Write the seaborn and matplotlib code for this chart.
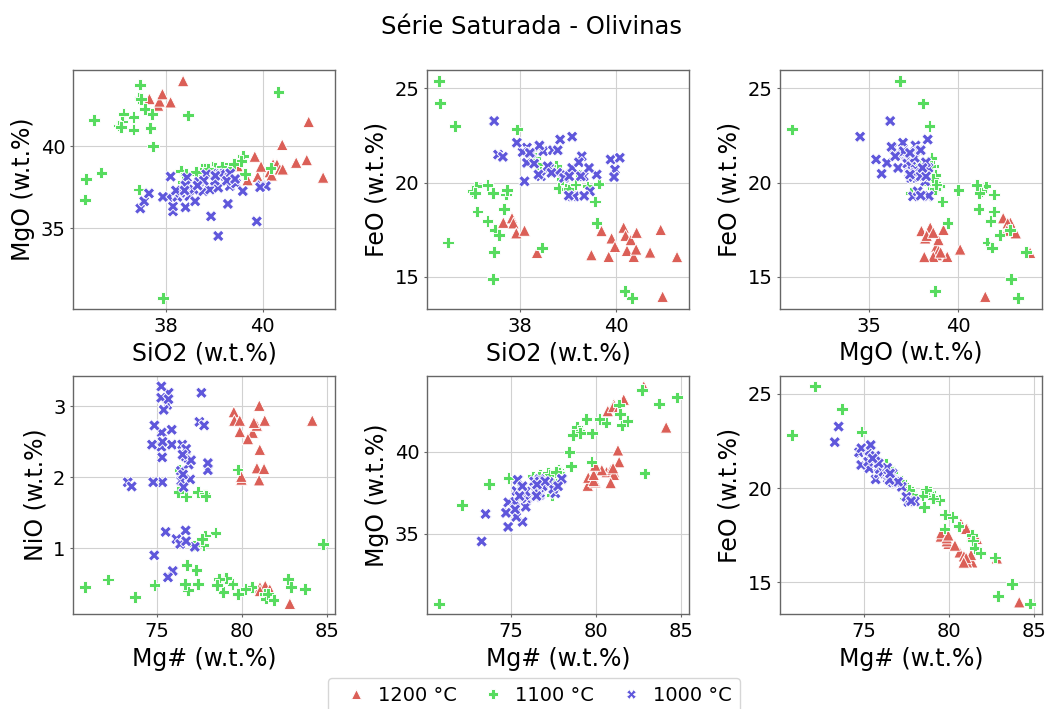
import matplotlib
matplotlib.use("Agg")
import matplotlib.pyplot as plt
from matplotlib.ticker import MultipleLocator
import pandas as pd
import seaborn as sns

# ---- olivine analyses, saturated series (wt.%) ----
# 1200 °C
sio2_1200 = [39.48, 39.69, 39.84, 39.90, 39.97, 40.15, 40.19, 40.22, 40.30, 40.36, 40.41,
             40.42, 40.70, 40.92, 40.96, 41.26, 37.65, 37.83, 37.86, 37.92, 38.09, 38.35]
mgo_1200 = [38.80, 37.94, 39.38, 38.15, 38.77, 38.43, 38.23, 38.90, 38.89, 38.60, 40.10,
            38.60, 39.01, 39.17, 41.50, 38.10, 42.90, 42.50, 42.75, 43.20, 42.70, 44.00]
feo_1200 = [16.16, 17.44, 16.07, 17.05, 16.60, 17.62, 17.19, 16.39, 16.96, 16.07, 16.46,
            17.35, 16.30, 17.50, 13.95, 16.06, 17.88, 18.12, 17.85, 17.32, 17.46, 16.28]
nio_1200 = [0.45, 2.92, 0.47, 1.97, 2.63, 2.80, 2.80, 2.13, 2.54, 0.40, 2.12,
            2.64, 1.96, 2.01, 2.80, 2.73, 2.39, 2.77, 3.01, 0.42, 2.80, 0.22]
mgn_1200 = [81.06, 79.52, 81.37, 79.97, 80.63, 79.55, 79.87, 80.88, 80.35, 81.06, 81.30,
            79.87, 81.01, 79.96, 84.14, 80.87, 81.05, 80.70, 81.02, 81.64, 81.34, 82.82]

# 1100 °C
sio2_1100 = [37.93, 36.31, 36.33, 36.65, 37.45, 37.44, 37.47, 37.56, 36.50, 38.45, 37.32,
             37.11, 37.71, 37.08, 37.01, 37.06, 37.32, 37.72, 40.33, 40.17, 37.43, 37.67,
             39.59, 39.56, 39.63, 39.40, 38.31, 38.75, 38.41, 38.80, 38.96, 39.02, 39.25,
             38.87, 39.15, 38.64, 38.35, 38.62]
mgo_1100 = [30.72, 36.74, 38.02, 38.39, 43.77, 42.95, 42.88, 42.30, 41.62, 41.89, 41.79,
            41.99, 41.99, 41.52, 41.27, 41.17, 41.02, 40.00, 43.33, 38.68, 37.36, 41.13,
            39.40, 39.11, 38.30, 38.91, 38.50, 38.60, 38.30, 38.60, 38.77, 38.70, 38.70,
            38.60, 38.77, 38.29, 37.82, 38.45]
feo_1100 = [22.83, 25.40, 24.21, 23.00, 16.32, 14.90, 17.50, 17.22, 16.82, 16.55, 17.97,
            18.47, 19.37, 19.80, 19.54, 19.45, 19.88, 19.60, 13.87, 14.26, 19.45, 18.60,
            17.85, 19.00, 19.95, 19.80, 21.30, 20.90, 20.70, 19.72, 19.66, 19.64, 20.40,
            20.20, 19.90, 20.60, 21.00, 20.87]
nio_1100 = [0.45, 0.56, 0.31, 0.48, 0.57, 0.43, 0.36, 0.29, 0.36, 0.27, 0.45,
            0.43, 0.50, 0.38, 0.58, 0.58, 0.57, 1.22, 1.06, 0.45, 0.50, 0.36,
            2.11, 0.48, 1.79, 1.76, 2.10, 1.73, 0.76, 1.04, 1.74, 1.18, 1.04,
            0.69, 1.13, 0.41, 1.79, 0.50]
mgn_1100 = [70.75, 72.10, 73.70, 74.85, 82.70, 83.70, 81.37, 81.41, 81.52, 81.86, 80.57,
            80.21, 79.44, 78.90, 79.02, 79.05, 78.63, 78.44, 84.78, 82.87, 77.40, 79.77,
            79.74, 78.54, 77.39, 77.80, 76.31, 76.71, 76.74, 77.73, 77.86, 77.84, 77.18,
            77.31, 77.64, 76.82, 76.25, 76.66]

# 1000 °C
sio2_1000 = [39.08, 37.46, 38.93, 39.88, 37.54, 37.64, 38.14, 38.14, 38.40, 38.05, 37.93,
             38.23, 38.48, 38.60, 39.28, 38.09, 38.43, 38.40, 38.29, 38.57, 38.68, 38.77,
             38.83, 38.91, 39.08, 39.08, 39.22, 39.32, 39.45, 39.59, 39.97, 40.07, 39.95,
             39.13, 39.33, 39.01, 38.78, 38.20, 38.65, 39.26, 39.02, 38.38, 39.43]
mgo_1000 = [34.52, 36.20, 35.72, 35.41, 36.64, 37.12, 36.02, 36.33, 36.27, 36.91, 36.91,
            36.91, 36.95, 36.64, 36.48, 38.15, 38.09, 37.61, 37.16, 37.36, 37.82, 37.26,
            38.29, 37.36, 38.33, 37.47, 38.19, 37.57, 37.73, 37.26, 37.61, 37.57, 37.50,
            38.30, 38.35, 37.90, 37.90, 37.30, 37.60, 37.90, 38.20, 37.30, 38.00]
feo_1000 = [22.44, 23.27, 20.47, 21.23, 21.49, 21.37, 21.05, 21.86, 21.90, 21.62, 22.12,
            21.58, 21.67, 20.78, 21.40, 20.07, 20.34, 21.97, 21.01, 20.87, 21.72, 20.52,
            22.29, 20.25, 20.78, 19.27, 21.08, 20.34, 19.54, 20.43, 20.69, 21.32, 20.30,
            19.27, 19.30, 19.31, 21.72, 21.58, 20.52, 20.34, 20.34, 20.43, 20.78]
nio_1000 = [1.93, 1.87, 3.19, 0.90, 2.43, 3.02, 1.93, 1.93, 2.46, 2.63, 2.73,
            2.28, 3.28, 2.46, 3.12, 1.02, 1.97, 2.50, 0.68, 1.13, 0.59, 2.09,
            2.95, 2.29, 1.25, 3.19, 1.06, 1.10, 2.78, 2.46, 1.95, 2.67, 2.40,
            2.10, 2.20, 2.73, 3.10, 1.23, 1.86, 2.18, 2.24, 2.32, 2.04]
mgn_1000 = [73.27, 73.50, 75.68, 74.83, 75.25, 75.59, 75.31, 74.77, 74.70, 75.27, 74.84,
            75.30, 75.25, 75.87, 75.24, 77.22, 76.95, 75.32, 75.92, 76.14, 75.64, 76.40,
            75.39, 76.69, 76.68, 77.61, 76.36, 76.71, 77.49, 76.48, 76.42, 75.86, 76.71,
            77.99, 77.99, 77.77, 75.67, 75.50, 76.56, 76.86, 77.00, 76.50, 76.53]

temperatures = ["1200 °C", "1100 °C", "1000 °C"]

frames = []
for temp, si, mg, fe, ni, mgn in [
    (temperatures[0], sio2_1200, mgo_1200, feo_1200, nio_1200, mgn_1200),
    (temperatures[1], sio2_1100, mgo_1100, feo_1100, nio_1100, mgn_1100),
    (temperatures[2], sio2_1000, mgo_1000, feo_1000, nio_1000, mgn_1000),
]:
    frames.append(pd.DataFrame({"SiO2": si, "MgO": mg, "FeO": fe, "NiO": ni,
                                "Mg#": mgn, "Temperatura": temp}))
df = pd.concat(frames, ignore_index=True)

sns.set_style("whitegrid")
plt.rcParams["font.family"] = ["DejaVu Sans"]
plt.rcParams["axes.edgecolor"] = "0.4"
plt.rcParams["grid.color"] = "0.82"
plt.rcParams["text.color"] = "black"
plt.rcParams["axes.labelcolor"] = "black"
plt.rcParams["xtick.labelcolor"] = "black"
plt.rcParams["ytick.labelcolor"] = "black"

palette = dict(zip(temperatures, sns.color_palette("hls", 3)))
markers = {"1200 °C": "^", "1100 °C": "P", "1000 °C": "X"}
major_step = {"SiO2": 2, "MgO": 5, "FeO": 5, "NiO": 1, "Mg#": 5}

panels = [("SiO2", "MgO"), ("SiO2", "FeO"), ("MgO", "FeO"),
          ("Mg#", "NiO"), ("Mg#", "MgO"), ("Mg#", "FeO")]

fig = plt.figure(figsize=(10.48, 7.09), dpi=100)
col_left = [0.0697, 0.4074, 0.7443]
row_bottom = [0.5642, 0.1333]
width, height = 0.25, 0.337

handles, labels = None, None
for i, (xc, yc) in enumerate(panels):
    ax = fig.add_axes([col_left[i % 3], row_bottom[i // 3], width, height])
    sns.scatterplot(data=df, x=xc, y=yc, hue="Temperatura", style="Temperatura",
                    hue_order=temperatures, style_order=temperatures,
                    palette=palette, markers=markers, s=70, ax=ax,
                    legend=(i == 0))
    if i == 0:
        handles, labels = ax.get_legend_handles_labels()
        ax.get_legend().remove()
    ax.xaxis.set_major_locator(MultipleLocator(major_step[xc]))
    ax.yaxis.set_major_locator(MultipleLocator(major_step[yc]))
    ax.set_xlabel(f"{xc} (w.t.%)", fontsize=17)
    ax.set_ylabel(f"{yc} (w.t.%)", fontsize=17)
    ax.tick_params(labelsize=14, length=2, color="0.4", bottom=True, left=True)
    for sp in ax.spines.values():
        sp.set_linewidth(1.0)

fig.suptitle("Série Saturada - Olivinas", fontsize=17.5, x=0.507, y=0.962, va="center")
fig.legend(handles, labels, loc="upper center", bbox_to_anchor=(0.5095, 0.057),
           ncol=3, fontsize=14, handlelength=2.0, handletextpad=0.15,
           columnspacing=0.87, frameon=True, markerscale=0.85)

fig.savefig("out.png", dpi=100)
